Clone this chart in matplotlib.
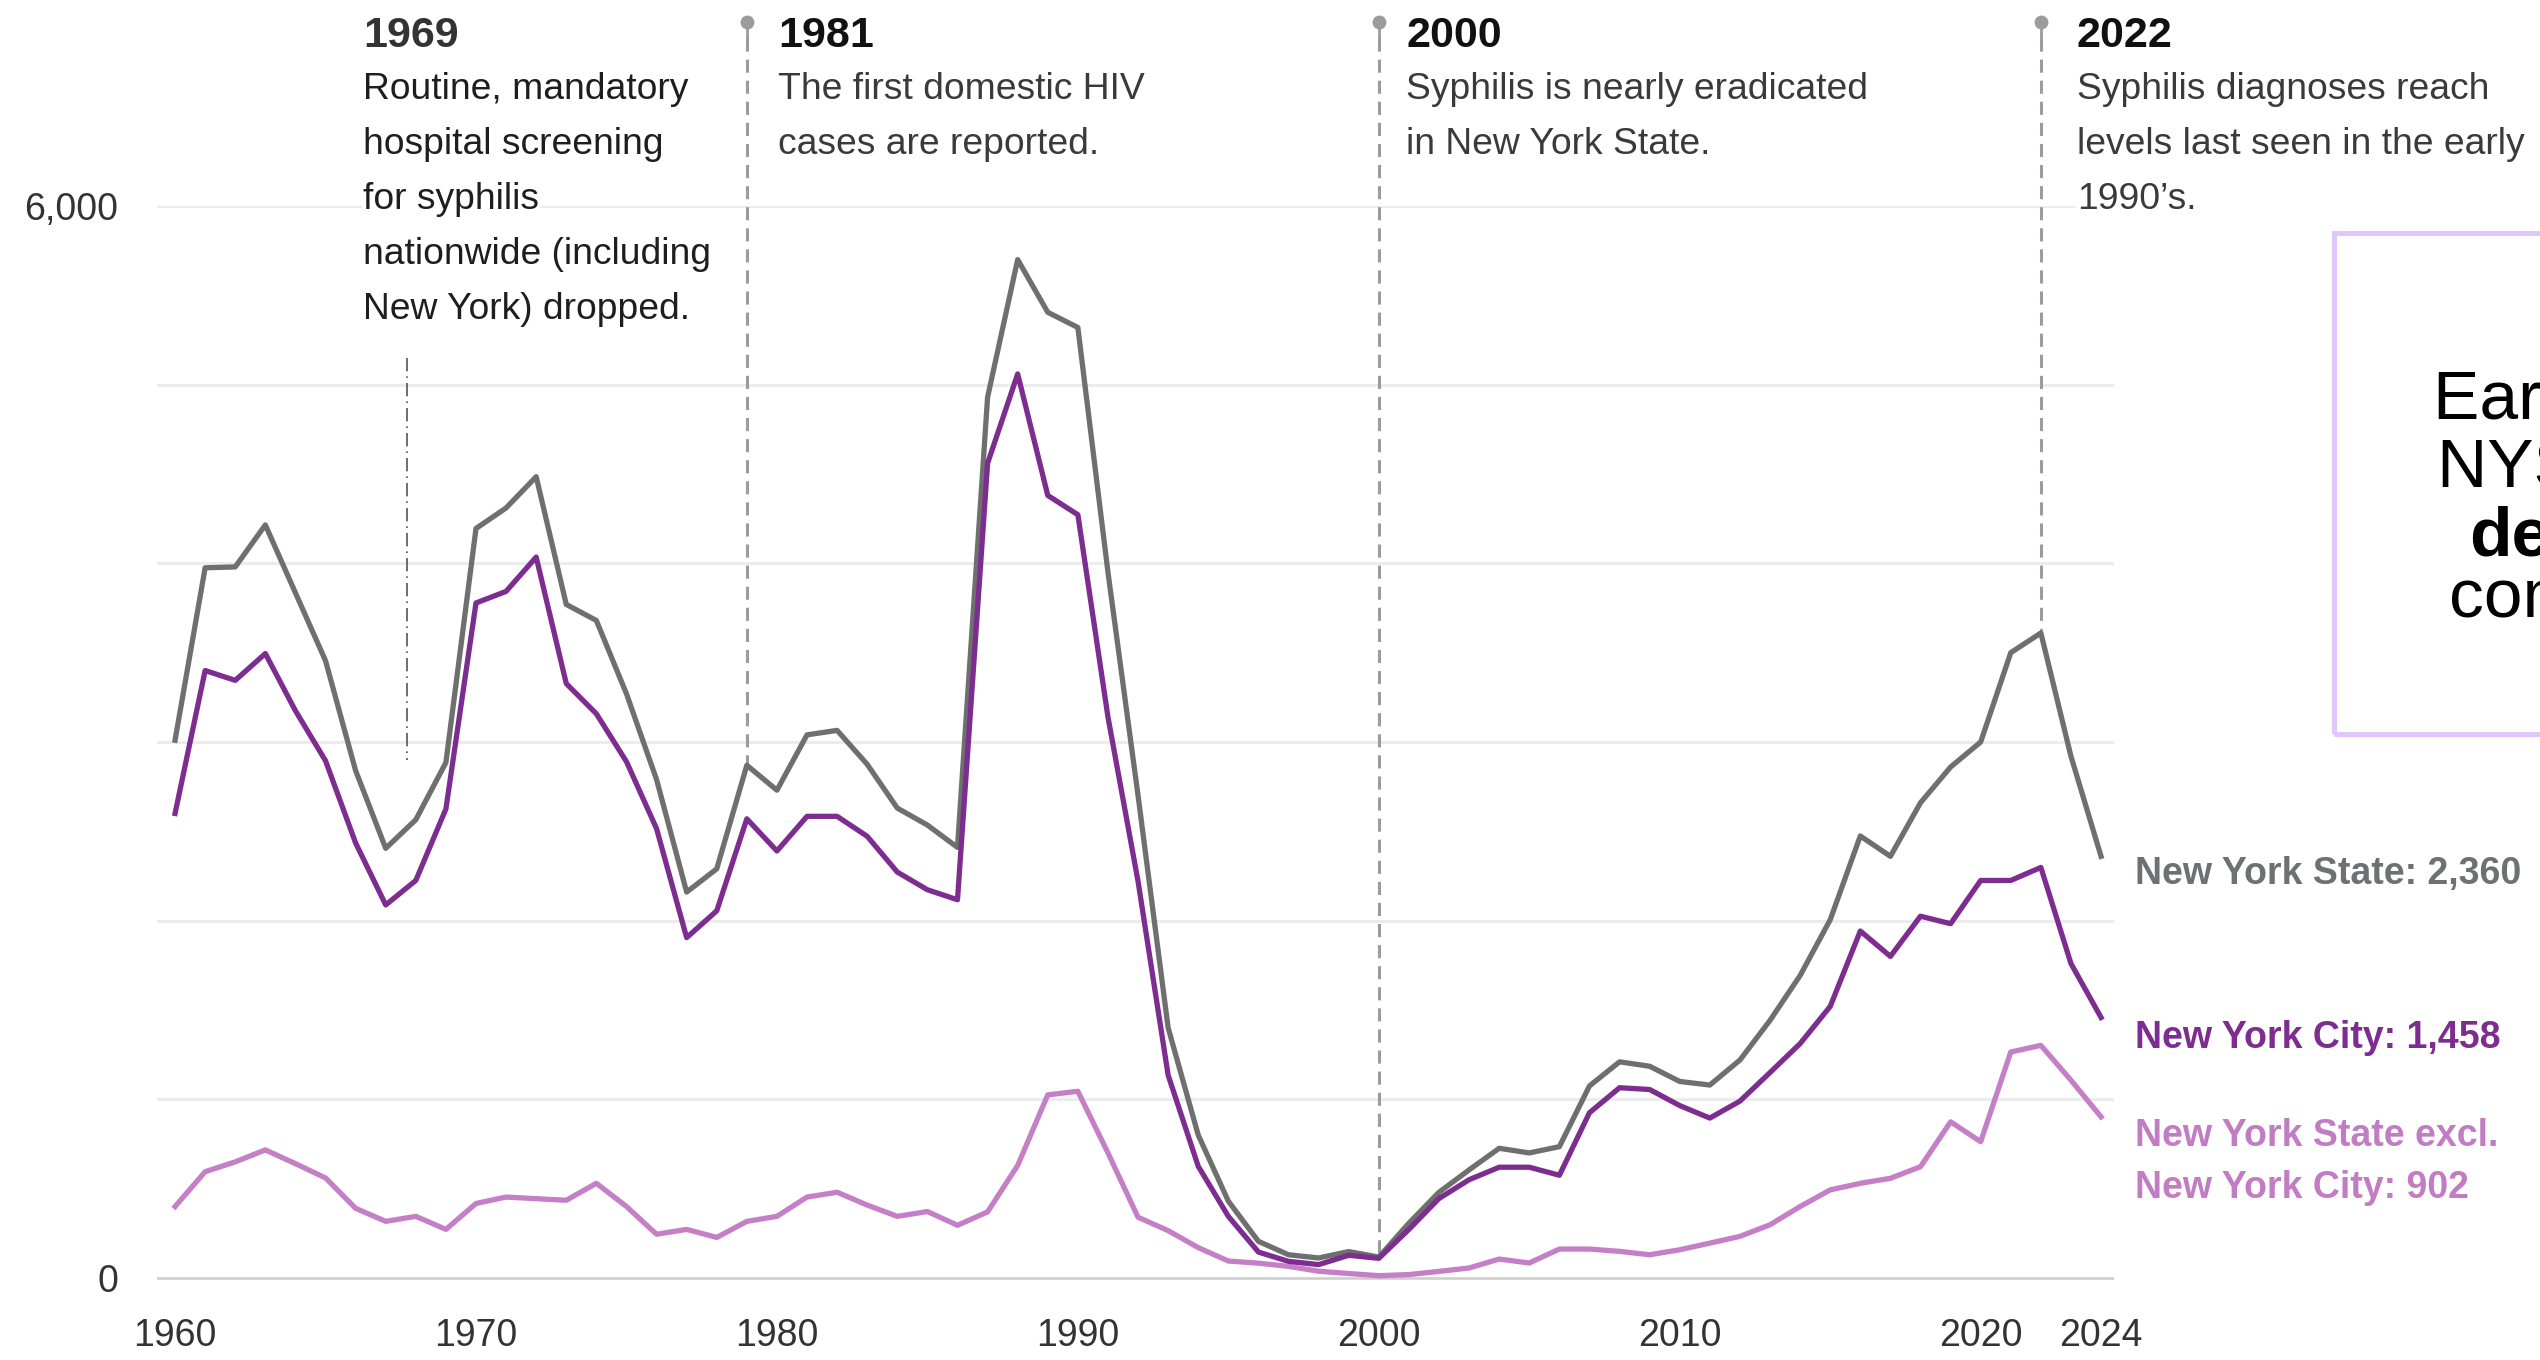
import numpy as np
import matplotlib
matplotlib.use("Agg")
import matplotlib.pyplot as plt
from matplotlib.patches import Rectangle

# ---------------- data ----------------
years = list(range(1960, 2025))

nys = [3010, 3975, 3980, 4215, 3835, 3455, 2840, 2405, 2565, 2885,
       4195, 4310, 4485, 3770, 3680, 3270, 2790, 2160, 2290, 2870,
       2730, 3040, 3065, 2875, 2630, 2535, 2410, 4930, 5700, 5405,
       5320, 3950, 2700, 1400, 800, 430, 205, 130, 112, 148,
       117, 307, 480, 605, 726, 700, 735, 1075, 1210, 1185,
       1100, 1080, 1220, 1442, 1693, 2005, 2474, 2360, 2660, 2860,
       3000, 3500, 3610, 2920, 2360]

nyc = [2600, 3400, 3345, 3495, 3175, 2895, 2435, 2088, 2225, 2625,
       3778, 3843, 4035, 3327, 3158, 2890, 2515, 1905, 2055, 2570,
       2390, 2584, 2584, 2472, 2272, 2173, 2117, 4560, 5060, 4380,
       4272, 3140, 2220, 1135, 625, 345, 145, 93, 75, 127,
       110, 272, 445, 550, 620, 620, 575, 925, 1065, 1055,
       965, 895, 990, 1150, 1312, 1520, 1942, 1800, 2025, 1983,
       2225, 2225, 2298, 1760, 1458]

nys_excl_nyc = [400, 595, 650, 717, 640, 560, 390, 317, 345, 272,
                417, 453, 444, 435, 530, 400, 245, 272, 227, 317,
                345, 453, 480, 408, 345, 372, 295, 370, 630, 1025,
                1045, 700, 340, 265, 170, 95, 83, 65, 38, 25,
                13, 19, 37, 56, 106, 84, 162, 162, 149, 130,
                158, 195, 233, 298, 400, 493, 530, 558, 623, 874,
                763, 1265, 1302, 1107, 902]

x_ticks = [1960, 1970, 1980, 1990, 2000, 2010, 2020, 2024]
x_tick_labels = [str(v) for v in x_ticks]
y_ticks = [0, 6000]
y_tick_labels = ["0", "6,000"]
grid_values = [1000, 2000, 3000, 4000, 5000, 6000]

series_labels = ["New York State: 2,360", "New York City: 1,458",
                 "New York State excl.\nNew York City: 902"]

event_years = [1979, 2000, 2022]
event_titles = ["1981", "2000", "2022"]
event_texts = [["The first domestic HIV", "cases are reported."],
               ["Syphilis is nearly eradicated", "in New York State."],
               ["Syphilis diagnoses reach", "levels last seen in the early", "1990\u2019s."]]
note_1969_year = 1967.72
note_1969_title = "1969"
note_1969_text = ["Routine, mandatory", "hospital screening", "for syphilis",
                  "nationwide (including", "New York) dropped."]
box_lines = ["Early 2024 data", "NYS cases", "decreased", "compared to 2023"]

# ---------------- style ----------------
W, H = 2540, 1360
plt.rcParams["font.family"] = ["Liberation Sans", "DejaVu Sans"]

C_NYS = "#6f6f6f"
C_NYC = "#7d2c8f"
C_EXCL = "#c47fc6"

fig = plt.figure(figsize=(W / 100, H / 100), dpi=100)
fig.patch.set_facecolor("white")


def fx(px):
    return px / W


def fy(py):
    return 1 - py / H


ax = fig.add_axes([fx(157), fy(1290.5), (2114 - 157) / W, (1290.5 - 206) / H])
ax.set_xlim(1959.4, 2024.43)
ax.set_ylim(-70, 6000)
for s in ax.spines.values():
    s.set_visible(False)

for v in grid_values:
    ax.axhline(v, color="#ececec", lw=2.2, zorder=0)
ax.axhline(0, color="#cccccc", lw=1.8, zorder=1)

ax.plot(years, nys_excl_nyc, color=C_EXCL, lw=3.8, zorder=3, solid_joinstyle="round")
ax.plot(years, nys, color=C_NYS, lw=3.8, zorder=4, solid_joinstyle="round")
ax.plot(years, nyc, color=C_NYC, lw=3.8, zorder=5, solid_joinstyle="round")

ax.set_xticks(x_ticks)
ax.set_xticklabels(x_tick_labels)
ax.set_yticks(y_ticks)
ax.set_yticklabels(y_tick_labels)
ax.tick_params(axis="both", length=0, labelsize=27, labelcolor="#333333")
ax.tick_params(axis="x", pad=20)
ax.tick_params(axis="y", pad=28)

# event lines (dashed, ending on the New York State line)
pin_val = (1278 - 22) / 0.17867
top_val = (1278 - 38) / 0.17867
for ex in event_years:
    end_val = float(np.interp(ex, years, nys))
    ax.plot([ex, ex], [top_val, end_val], color="#9c9c9c", lw=2.2,
            ls=(0, (4.3, 2.6)), clip_on=False, zorder=2)
    ax.plot([ex, ex], [pin_val, top_val], color="#9c9c9c", lw=2.0,
            clip_on=False, zorder=2)
    ax.plot([ex], [pin_val], marker="o", ms=9, color="#9c9c9c",
            clip_on=False, zorder=2)

# 1969 dash-dot marker
ax.plot([note_1969_year, note_1969_year], [5150, 2900], color="#555555",
        lw=1.2, ls=(0, (8, 3, 1, 3)), zorder=2)


def put(px, py, s, **kw):
    return fig.text(fx(px), fy(py), s, ha="left", va="baseline", **kw)


body_base = [99, 154, 209, 264, 319]
wbox = dict(facecolor="white", edgecolor="none", pad=1.0)

put(363, 47, note_1969_title, fontsize=31, fontweight="bold", color="#333333")
for i, line in enumerate(note_1969_text):
    put(363, body_base[i], line, fontsize=26.8, color="#1e1e1e", bbox=wbox)

event_text_x = [778, 1406, 2077]
for tx, title, lines in zip(event_text_x, event_titles, event_texts):
    put(tx, 47, title, fontsize=31, fontweight="bold", color="#111111")
    for i, line in enumerate(lines):
        put(tx, body_base[i], line, fontsize=26.8, color="#3a3a3a", bbox=wbox)

# series end labels
put(2135, 884, series_labels[0], fontsize=27, fontweight="bold", color="#6e7073")
put(2135, 1048, series_labels[1], fontsize=27, fontweight="bold", color=C_NYC)
excl_lines = series_labels[2].split("\n")
put(2135, 1146, excl_lines[0], fontsize=27, fontweight="bold", color="#c27cc3")
put(2135, 1198, excl_lines[1], fontsize=27, fontweight="bold", color="#c27cc3")

# cropped call-out box on the right
fig.add_artist(Rectangle((fx(2334), fy(734)), (2800 - 2334) / W, (734 - 233) / H,
                         transform=fig.transFigure, fill=False,
                         edgecolor="#dfc7fb", lw=3.6))
box_pos = [(2433, 419), (2437, 487), (2469, 555), (2449, 617)]
for (bx, by), line, wt in zip(box_pos, box_lines, ["normal", "normal", "bold", "normal"]):
    put(bx, by, line, fontsize=50, fontweight=wt, color="black")

fig.savefig("out.png", dpi=100, facecolor="white")
